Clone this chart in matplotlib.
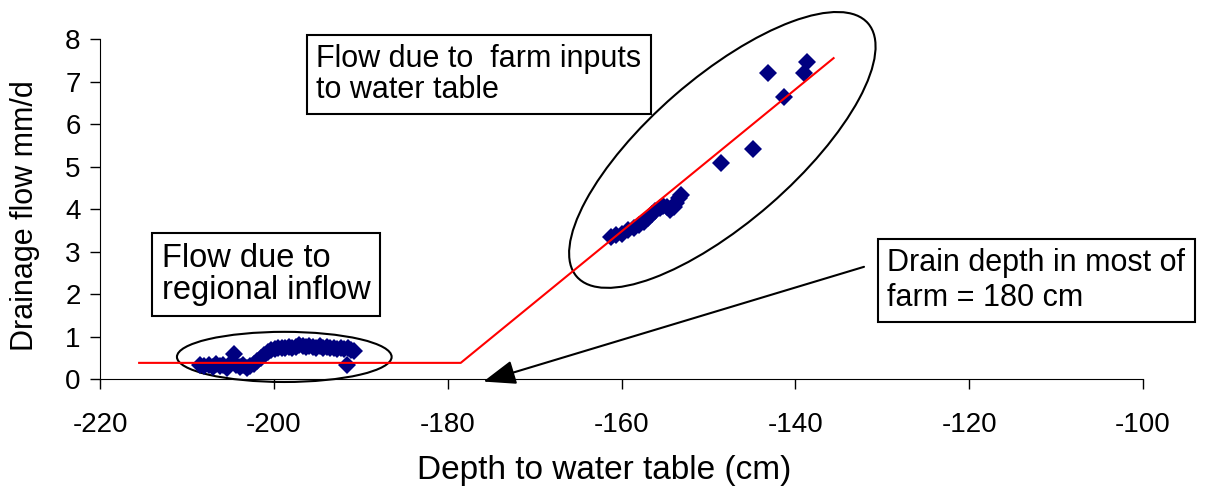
import numpy as np
import matplotlib
matplotlib.use("Agg")
import matplotlib.pyplot as plt
from matplotlib.patches import Ellipse
from matplotlib.transforms import ScaledTranslation

plt.rcParams['font.family'] = ['Liberation Sans', 'DejaVu Sans']
plt.rcParams['axes.unicode_minus'] = False

# regional inflow period (deep water table)
regional_x = [-208.5, -208.0, -207.5, -207.0, -206.6, -206.2, -205.8, -205.4, -205.0,
              -204.6, -204.3, -203.9, -203.5, -203.1, -202.7, -202.3, -201.9, -201.5,
              -201.1, -200.7, -200.3, -199.9, -199.5, -199.1, -198.7, -198.3, -197.9,
              -197.5, -197.1, -196.7, -196.3, -195.9, -195.5, -195.1, -194.7, -194.3,
              -193.9, -193.5, -193.1, -192.7, -192.3, -191.9, -191.5, -191.1, -190.8,
              -191.6]
regional_y = [0.32, 0.30, 0.33, 0.28, 0.35, 0.30, 0.33, 0.27, 0.35,
              0.58, 0.33, 0.28, 0.32, 0.26, 0.30, 0.36, 0.42, 0.50,
              0.57, 0.63, 0.68, 0.70, 0.72, 0.74, 0.73, 0.75, 0.74,
              0.76, 0.79, 0.77, 0.75, 0.78, 0.76, 0.74, 0.77, 0.73,
              0.75, 0.72, 0.74, 0.71, 0.73, 0.70, 0.72, 0.68, 0.66,
              0.33]

# farm input period (shallow water table)
farm_x = [-161.2, -160.6, -160.0, -159.3, -158.6, -158.0, -157.4, -157.0, -156.5,
          -156.1, -155.6, -155.2, -154.8, -154.4, -154.0, -153.7, -153.4, -153.2,
          -148.6, -144.9, -143.1, -141.3, -139.0, -138.7]
farm_y = [3.33, 3.38, 3.42, 3.50, 3.55, 3.62, 3.70, 3.80, 3.88,
          3.95, 4.02, 4.07, 4.05, 3.98, 4.05, 4.15, 4.25, 4.32,
          5.09, 5.41, 7.21, 6.63, 7.21, 7.47]

# broken-stick fit
fit_x = [-215.5, -178.5, -135.6]
fit_y = [0.38, 0.38, 7.55]

fig = plt.figure(figsize=(12.08, 4.95), dpi=100)
ax = fig.add_axes([0.0828, 0.2343, 0.8634, 0.6869])

ax.plot(regional_x + farm_x, regional_y + farm_y, 'D', color='#000080',
        ms=9.5, mew=0, zorder=3, clip_on=False)
ax.plot(fit_x, fit_y, color='red', lw=1.5, zorder=4)

ax.set_xlim(-220, -100)
ax.set_ylim(0, 8)
ax.set_xticks(np.arange(-220, -99, 20))
ax.set_yticks(np.arange(0, 9, 1))
ax.spines['top'].set_visible(False)
ax.spines['right'].set_visible(False)
ax.tick_params(direction='out', length=7, width=1, labelsize=20)
ax.tick_params(axis='x', pad=17)
ax.tick_params(axis='y', pad=7)

ax.set_xlabel('Depth to water table (cm)', fontsize=24, va='center')
ax.xaxis.set_label_coords(0.483, -0.268)
ax.set_ylabel('Drainage flow mm/d', fontsize=22, va='center')
ax.yaxis.set_label_coords(-0.072, 0.482)

# ellipses round the two groups
ax.add_patch(Ellipse((-198.8, 0.52), 24.7, 1.18, fill=False, ec='black',
                     lw=1.5, clip_on=False, zorder=2))
ell_tr = fig.dpi_scale_trans + ScaledTranslation(-148.4, 5.39, ax.transData)
ax.add_patch(Ellipse((0, 0), 3.86, 1.45, angle=41, fill=False, ec='black',
                     lw=1.5, transform=ell_tr, clip_on=False, zorder=2))

box = dict(boxstyle='square,pad=0.3', fc='white', ec='black', lw=1.5)
ax.text(-195.1, 7.88, 'Flow due to  farm inputs\nto water table', fontsize=22,
        ha='left', va='top', linespacing=1.05, bbox=box)
ax.text(-212.9, 3.2, 'Flow due to\nregional inflow', fontsize=23.5,
        ha='left', va='top', linespacing=1.05, bbox=box)
ax.text(-129.4, 3.08, 'Drain depth in most of\nfarm = 180 cm', fontsize=22,
        ha='left', va='top', linespacing=1.2, bbox=box)

ax.annotate('', xy=(-175.9, -0.06), xytext=(-132.1, 2.64),
            arrowprops=dict(arrowstyle='-|>,head_length=0.8,head_width=0.3',
                            color='black', lw=1.5, mutation_scale=25,
                            shrinkA=0, shrinkB=0),
            annotation_clip=False)

fig.savefig('out.png', dpi=100)
